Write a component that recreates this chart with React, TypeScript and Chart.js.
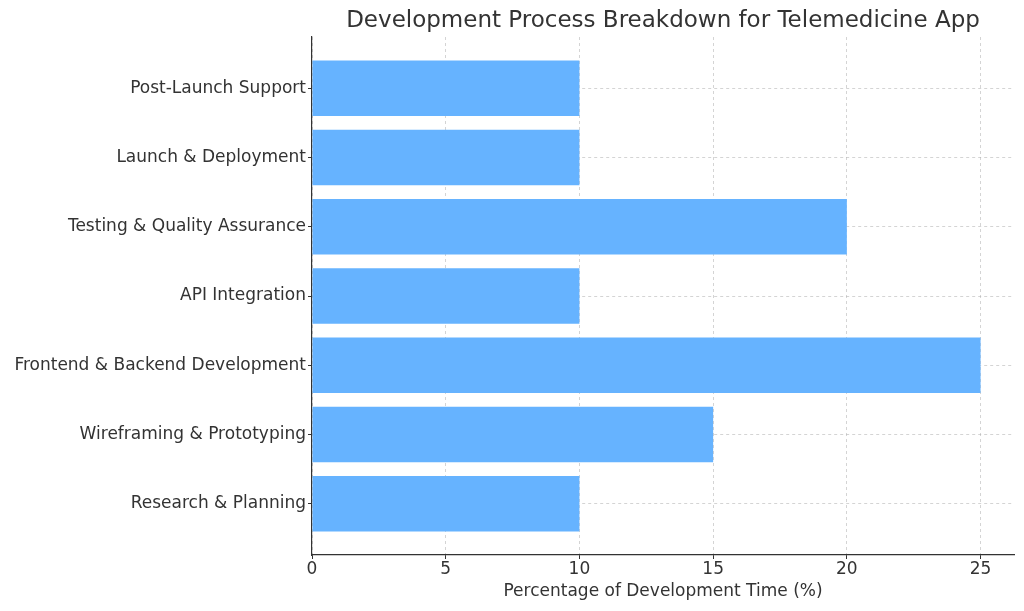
import React, { useEffect, useRef } from "react";
import { Chart, registerables } from "chart.js";

Chart.register(...registerables);

const categories = [
  "Research & Planning",
  "Wireframing & Prototyping",
  "Frontend & Backend Development",
  "API Integration",
  "Testing & Quality Assurance",
  "Launch & Deployment",
  "Post-Launch Support",
];
const values = [10, 15, 25, 10, 20, 10, 10];
const xTicks = [0, 5, 10, 15, 20, 25];
const titleText = "Development Process Breakdown for Telemedicine App";
const xTitle = "Percentage of Development Time (%)";

const FONT = "'DejaVu Sans', sans-serif";
const TEXT = "#333333";
const GRID = "rgba(176,176,176,0.55)";

export default function App() {
  const ref = useRef<HTMLCanvasElement | null>(null);
  useEffect(() => {
    document.body.style.margin = "0";
    const canvas = ref.current!;
    const titlePlugin = {
      id: "topTitle",
      afterDraw(chart: any) {
        const { ctx, chartArea } = chart;
        ctx.save();
        ctx.font = `23px ${FONT}`;
        ctx.fillStyle = TEXT;
        ctx.textAlign = "center";
        ctx.textBaseline = "middle";
        ctx.fillText(titleText, (chartArea.left + chartArea.right) / 2, 21);
        ctx.restore();
      },
    };
    const chart = new Chart(canvas, {
      type: "bar",
      data: {
        datasets: [
          {
            data: values.map((v, i) => ({ x: v, y: i })),
            backgroundColor: "#66b3ff",
            borderWidth: 0,
            barPercentage: 0.8,
            categoryPercentage: 1.0,
          },
        ],
      },
      options: {
        indexAxis: "y",
        animation: false,
        responsive: false,
        layout: { padding: { top: 37, right: 10, left: 0, bottom: 0 } },
        plugins: { legend: { display: false }, tooltip: { enabled: false }, title: { display: false } },
        scales: {
          x: {
            type: "linear",
            min: 0,
            max: 26.25,
            offset: false,
            z: 1,
            afterFit(scale: any) {
              scale.height = 56;
            },
            afterBuildTicks(scale: any) {
              scale.ticks = xTicks.map((v) => ({ value: v }));
            },
            ticks: { font: { family: FONT, size: 17 }, color: TEXT, padding: 0 },
            grid: {
              color: GRID,
              tickColor: "#333333",
              tickLength: 4,
              tickWidth: 1,
              tickBorderDash: [],
              offset: false,
            },
            border: { display: true, color: "#333333", width: 1.2, dash: [3, 3] },
            title: {
              display: true,
              text: xTitle,
              font: { family: FONT, size: 17 },
              color: TEXT,
              padding: { top: 0, bottom: 9 },
            },
          },
          y: {
            type: "linear",
            min: -0.74,
            max: 6.74,
            offset: false,
            z: 1,
            afterFit(scale: any) {
              scale.width = 312;
            },
            afterBuildTicks(scale: any) {
              scale.ticks = categories.map((_, i) => ({ value: i }));
            },
            ticks: {
              font: { family: FONT, size: 17 },
              color: TEXT,
              padding: 2,
              callback: (v: any) => categories[Number(v)] ?? "",
            },
            grid: {
              color: GRID,
              tickColor: "#333333",
              tickLength: 4,
              tickWidth: 1,
              tickBorderDash: [],
              offset: false,
            },
            border: { display: true, color: "#333333", width: 1.2, dash: [3, 3] },
          },
        },
      },
      plugins: [titlePlugin],
    } as any);
    return () => chart.destroy();
  }, []);
  return <canvas ref={ref} width={1024} height={611} style={{ display: "block" }} />;
}
